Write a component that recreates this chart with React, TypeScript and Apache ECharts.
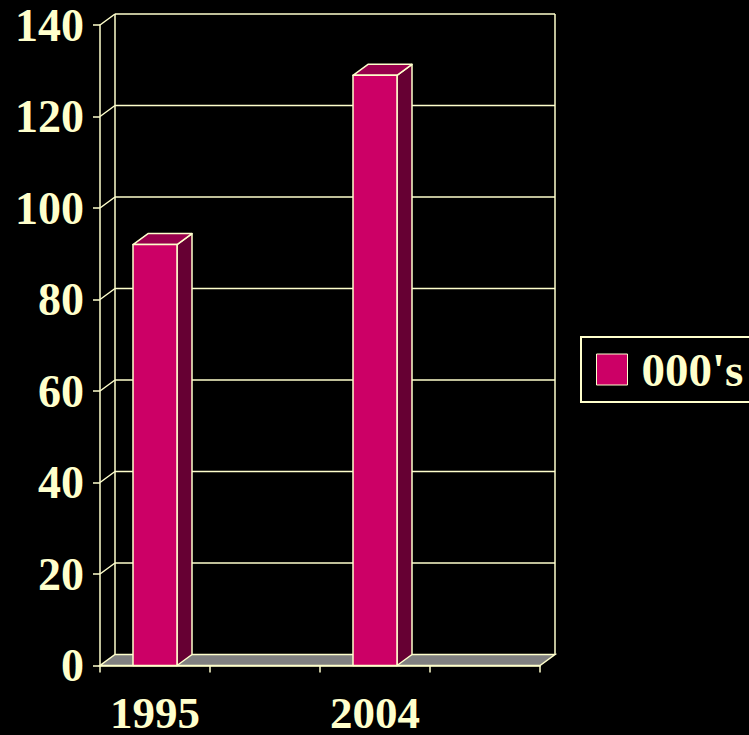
import React, { useEffect, useRef } from "react";
import * as echarts from "echarts";

const categories = ["1995", "", "2004", ""];
const values: (number | null)[] = [92, null, 129, null];
const yTicks = [0, 20, 40, 60, 80, 100, 120, 140];
const seriesName = "000's";

const CREAM = "#FFFFCC";
const FRONT = "#CC0066";
const TOP = "#99004D";
const SIDE = "#660033";
const FLOOR = "#808080";
const DX = 15;
const DY = -11;
const FONT = '"Times New Roman", "Liberation Serif", serif';

export default function App() {
  const ref = useRef<HTMLDivElement>(null);
  useEffect(() => {
    const chart = echarts.init(ref.current!, null, { renderer: "svg" });
    const barData = categories
      .map((c, i) => (values[i] != null ? [i, values[i]] : null))
      .filter((d) => d != null);
    chart.setOption({
      animation: false,
      backgroundColor: "#000000",
      grid: { left: 100, right: 209, top: 25, bottom: 68, containLabel: false },
      legend: {
        show: true,
        left: 581,
        top: 337,
        orient: "vertical",
        borderColor: CREAM,
        borderWidth: 2,
        padding: [9, 20, 9, 15],
        itemWidth: 31,
        itemHeight: 31,
        data: [
          {
            name: seriesName,
            icon: "rect",
            itemStyle: { color: FRONT, borderColor: CREAM, borderWidth: 1 },
          },
        ],
        textStyle: {
          color: CREAM,
          fontFamily: FONT,
          fontWeight: "bold",
          fontSize: 47,
          lineHeight: 46,
          padding: [0, 0, 0, 9],
        },
      },
      xAxis: {
        type: "category",
        data: categories,
        boundaryGap: true,
        axisLine: { show: true, lineStyle: { color: CREAM, width: 1.5 } },
        axisTick: { show: true, length: 7, lineStyle: { color: CREAM, width: 1.5 } },
        axisLabel: {
          interval: 0,
          margin: 29,
          lineHeight: 36,
          color: CREAM,
          fontFamily: FONT,
          fontWeight: "bold",
          fontSize: 45,
        },
        splitLine: { show: false },
      },
      yAxis: {
        type: "value",
        min: 0,
        max: 140,
        interval: 20,
        axisLine: { show: true, lineStyle: { color: CREAM, width: 1.5 } },
        axisTick: { show: true, length: 7, lineStyle: { color: CREAM, width: 1.5 } },
        axisLabel: {
          margin: 16,
          padding: [6, 0, 0, 0],
          color: CREAM,
          fontFamily: FONT,
          fontWeight: "bold",
          fontSize: 46,
        },
        splitLine: { show: false },
      },
      series: [
        {
          type: "custom",
          z: 1,
          clip: false,
          silent: true,
          data: [[0, 0]],
          renderItem: (params: any, api: any) => {
            const bw = api.size([1, 0])[0];
            const x0 = api.coord([0, 0])[0] - bw / 2;
            const x1 = api.coord([categories.length - 1, 0])[0] + bw / 2;
            const yBase = api.coord([0, 0])[1];
            const yTop = api.coord([0, yTicks[yTicks.length - 1]])[1];
            const ls = { stroke: CREAM, lineWidth: 1.5 };
            const children: any[] = [];
            children.push({
              type: "polygon",
              shape: {
                points: [
                  [x0, yBase],
                  [x1, yBase],
                  [x1 + DX, yBase + DY],
                  [x0 + DX, yBase + DY],
                ],
              },
              style: { fill: FLOOR, stroke: CREAM, lineWidth: 1.5 },
            });
            yTicks.forEach((v) => {
              const y = api.coord([0, v])[1];
              if (v !== 0) {
                children.push({
                  type: "line",
                  shape: { x1: x0 + DX, y1: y + DY, x2: x1 + DX, y2: y + DY },
                  style: ls,
                });
                children.push({
                  type: "line",
                  shape: { x1: x0, y1: y, x2: x0 + DX, y2: y + DY },
                  style: ls,
                });
              }
            });
            children.push({
              type: "line",
              shape: { x1: x0 + DX, y1: yTop + DY, x2: x0 + DX, y2: yBase + DY },
              style: ls,
            });
            children.push({
              type: "line",
              shape: { x1: x1 + DX, y1: yTop + DY, x2: x1 + DX, y2: yBase + DY },
              style: ls,
            });
            return { type: "group", children };
          },
        },
        {
          type: "custom",
          name: seriesName,
          z: 3,
          clip: false,
          itemStyle: { color: FRONT },
          data: barData,
          renderItem: (params: any, api: any) => {
            const i = api.value(0);
            const v = api.value(1);
            const bw = api.size([1, 0])[0];
            const w = bw * 0.4;
            const [cx, yv] = api.coord([i, v]);
            const yBase = api.coord([i, 0])[1];
            const xl = cx - w / 2;
            const xr = cx + w / 2;
            const st = { stroke: CREAM, lineWidth: 1.5, lineJoin: "round" };
            return {
              type: "group",
              children: [
                {
                  type: "polygon",
                  shape: {
                    points: [
                      [xr, yv],
                      [xr + DX, yv + DY],
                      [xr + DX, yBase + DY],
                      [xr, yBase],
                    ],
                  },
                  style: { fill: SIDE, ...st },
                },
                {
                  type: "polygon",
                  shape: {
                    points: [
                      [xl, yv],
                      [xr, yv],
                      [xr + DX, yv + DY],
                      [xl + DX, yv + DY],
                    ],
                  },
                  style: { fill: TOP, ...st },
                },
                {
                  type: "rect",
                  shape: { x: xl, y: yv, width: w, height: yBase - yv },
                  style: { fill: FRONT, ...st },
                },
              ],
            };
          },
        },
      ],
    });
    return () => chart.dispose();
  }, []);
  return (
    <div
      ref={ref}
      style={{
        position: "fixed",
        left: 0,
        top: 0,
        width: 749,
        height: 735,
        background: "#000000",
      }}
    />
  );
}
